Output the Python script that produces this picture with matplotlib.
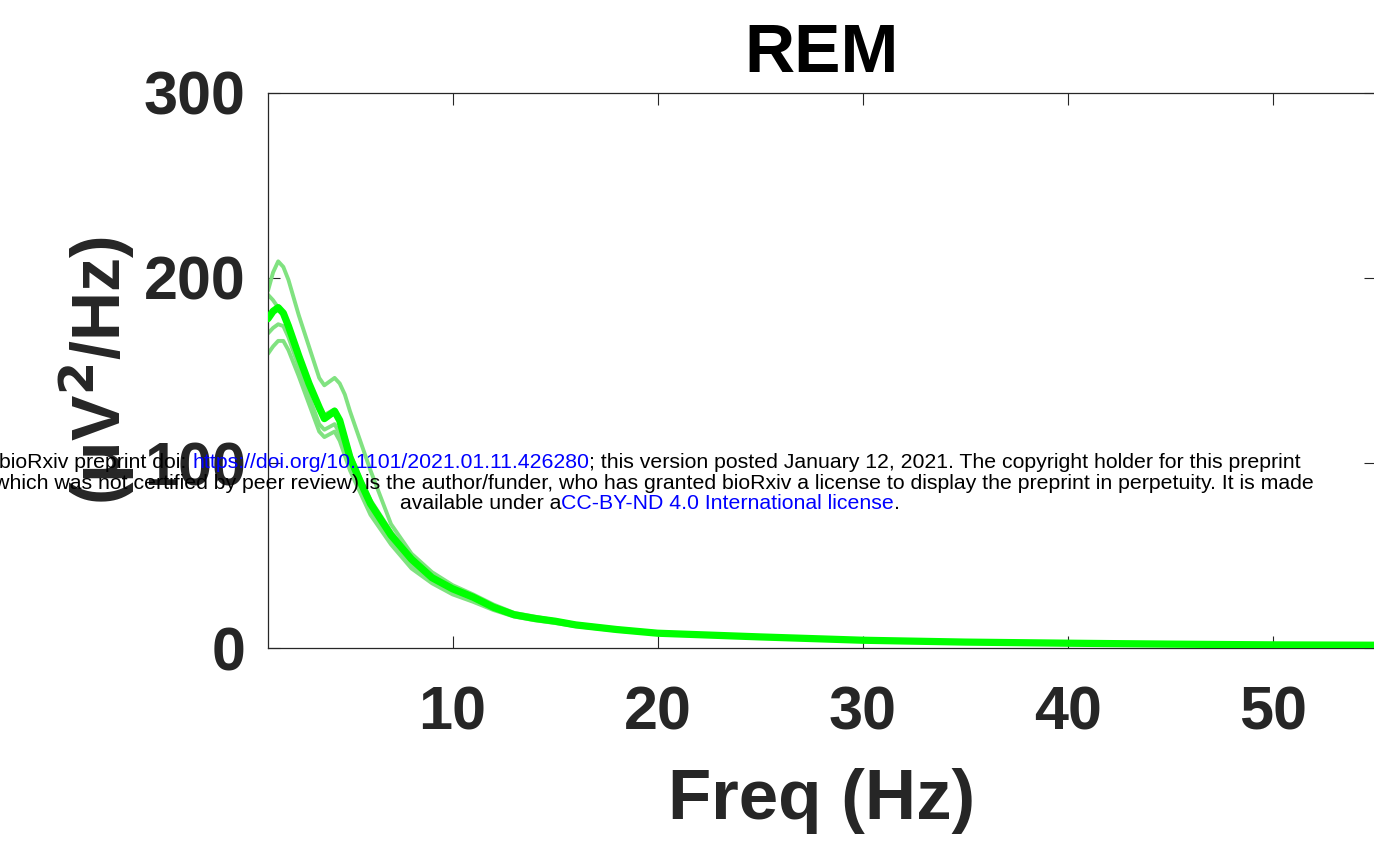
import matplotlib
matplotlib.use("Agg")
import matplotlib.pyplot as plt
from matplotlib import font_manager

# PSD during REM: mean across animals (bright) and individual traces (pale)
freq = [1, 1.25, 1.5, 1.75, 2, 2.5, 3, 3.5, 3.75, 4, 4.25, 4.5, 4.75, 5, 5.5, 6, 7, 8, 9,
        10, 11, 12, 13, 14, 15, 16, 18, 20, 25, 30, 35, 40, 45, 50, 55]

mean_psd = [178, 182, 184, 181, 174, 158, 143, 130, 124, 126, 128, 123, 113, 103, 90, 78, 61, 48, 38,
            32, 27.5, 22, 18, 16, 14.5, 12.5, 10, 8, 6, 4.2, 3.2, 2.6, 2.1, 1.7, 1.5]

trace_a = [193, 203, 209, 206, 199, 180, 163, 146, 142, 144, 146, 143, 137, 128, 112, 96, 67, 51, 41,
           34, 29, 23.5, 19, 17, 15, 13, 10.5, 8.5, 6.3, 4.5, 3.4, 2.8, 2.2, 1.8, 1.6]
trace_b = [191, 188, 184, 180, 173, 158, 144, 131, 126, 127.5, 129, 124, 115, 105, 92, 80, 63, 49, 39,
           33, 28.5, 23, 18.5, 16.5, 15, 13, 10.2, 8.2, 6.1, 4.3, 3.3, 2.7, 2.1, 1.7, 1.5]
trace_c = [170, 173, 175, 174, 168, 152, 136, 121, 118, 119.5, 121, 116, 107, 98, 86, 74, 58, 45, 36,
           30, 26, 21, 17.5, 15.5, 14, 12, 9.6, 7.8, 5.9, 4.1, 3.1, 2.5, 2.0, 1.6, 1.4]
trace_d = [159, 163, 166, 166, 161, 147, 132, 117, 114, 115.5, 117, 112, 104, 96, 84, 72, 56, 43, 35,
           29, 25, 20.5, 17, 15, 13.5, 11.8, 9.4, 7.6, 5.8, 4.0, 3.0, 2.4, 1.9, 1.5, 1.3]

x_ticks = [10, 20, 30, 40, 50]
y_ticks = [0, 100, 200, 300]

INK = "#262626"
BRIGHT = "#00FF00"
PALE = "#80E280"

plt.rcParams["font.family"] = ["Liberation Sans", "DejaVu Sans"]

fig = plt.figure(figsize=(13.74, 8.43), dpi=100)
ax = fig.add_axes([0.1950, 0.2313, 0.8061, 0.6584])

for tr in (trace_a, trace_b, trace_c, trace_d):
    ax.plot(freq, tr, color=PALE, lw=2.8, zorder=2,
            solid_capstyle="round", solid_joinstyle="round")
ax.plot(freq, mean_psd, color=BRIGHT, lw=5.2, zorder=3,
        solid_capstyle="round", solid_joinstyle="round")

ax.set_xlim(1, 55)
ax.set_ylim(0, 300)
ax.set_xticks(x_ticks)
ax.set_yticks(y_ticks)
ax.tick_params(direction="in", length=8.6, width=0.8, color=INK,
               top=True, right=True, labelsize=44, labelcolor=INK)
ax.tick_params(axis="x", pad=27)
ax.tick_params(axis="y", pad=16)
for lab in ax.get_xticklabels() + ax.get_yticklabels():
    lab.set_fontweight("bold")
for s in ax.spines.values():
    s.set_color(INK)
    s.set_linewidth(0.9)

ax.set_title("REM", fontsize=50, fontweight="bold", color="black", pad=15)
ax.set_xlabel("Freq (Hz)", fontsize=51, fontweight="bold", color=INK, labelpad=18)
ax.set_ylabel("(\u03bcV$^\\mathbf{2}$/Hz)", fontsize=49, fontweight="bold", color=INK)
ax.yaxis.set_label_coords(-0.118, 0.5)

# bioRxiv watermark stamped across the page (narrow face if it is installed)
try:
    font_manager.findfont("Liberation Sans Narrow", fallback_to_default=False)
    wm_family = ["Liberation Sans Narrow", "Liberation Sans"]
except ValueError:
    wm_family = ["Liberation Sans", "DejaVu Sans"]

lines = [
    [("bioRxiv preprint doi: ", "black"),
     ("https://doi.org/10.1101/2021.01.11.426280", "#0000FF"),
     ("; this version posted January 12, 2021. The copyright holder for this preprint", "black")],
    [("(which was not certified by peer review) is the author/funder, who has granted bioRxiv "
      "a license to display the preprint in perpetuity. It is made", "black")],
    [("available under a", "black"),
     ("CC-BY-ND 4.0 International license", "#0000FF"),
     (".", "black")],
]
baselines = [468, 489, 509]
center_px = 650

renderer = fig.canvas.get_renderer()


def width_px(s, size):
    t = fig.text(0, 0, s + "I", fontsize=size, family=wm_family)
    t2 = fig.text(0, 0, "I", fontsize=size, family=wm_family)
    w = t.get_window_extent(renderer).width - t2.get_window_extent(renderer).width
    t.remove()
    t2.remove()
    return w


# size the stamp so the last line is as wide as in the page (about 502 px)
wm_size = 10 * 502 / width_px("available under aCC-BY-ND 4.0 International license.", 10)

W, H = fig.get_size_inches() * fig.dpi
for pieces, base in zip(lines, baselines):
    total = width_px("".join(p for p, _ in pieces), wm_size)
    x = center_px - total / 2
    for s, c in pieces:
        fig.text(x / W, 1 - base / H, s, fontsize=wm_size, color=c, family=wm_family,
                 ha="left", va="baseline", zorder=10)
        x += width_px(s, wm_size)

fig.savefig("out.png", dpi=100)
